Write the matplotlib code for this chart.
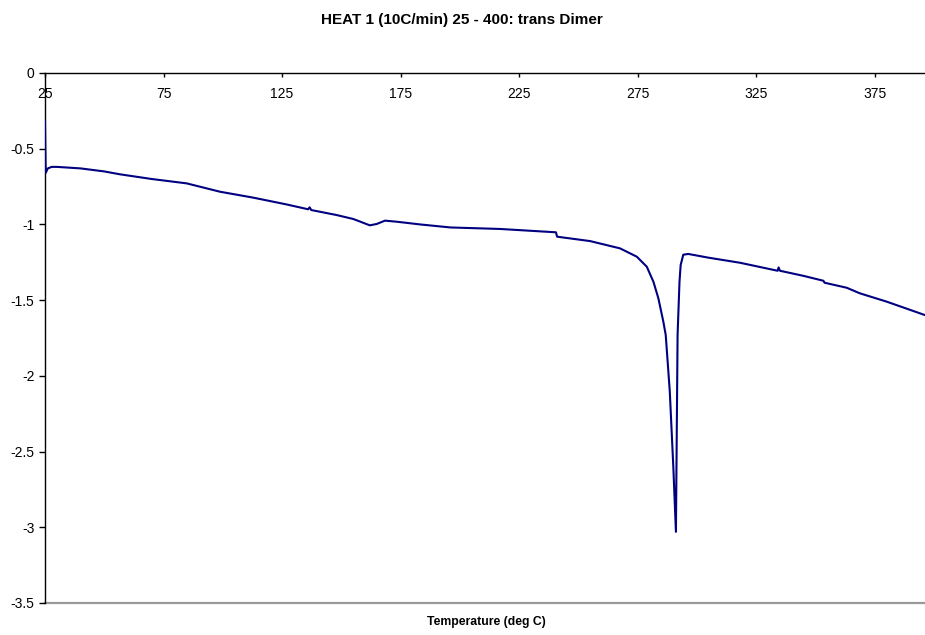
"""
DSC heat-flow trace, Excel-style line chart.
"""
import matplotlib
matplotlib.use('Agg')
import matplotlib.pyplot as plt

# ============================================================
# DATA
# ============================================================
temperature = [
    25.0, 25.3, 26.2, 27.8, 30, 40, 50, 56.6, 70, 84.8, 98.8, 112.8,
    126.9, 136.0, 136.6, 137.3, 148, 155, 162, 164.9, 168.4, 173.3,
    183.2, 196, 217, 240.5, 241.0, 254.9, 267.5, 274.6, 278.8, 281.6,
    283.7, 285.8, 286.8, 288.5, 290.0, 291.1, 291.8, 292.6, 293.1, 294.2,
    296.3, 305, 318.1, 334.0, 334.4, 335.0, 345, 353.3, 353.8, 363.1,
    368.7, 380, 396,
]
heat_flow = [
    -0.32, -0.66, -0.63, -0.62, -0.62, -0.63, -0.65, -0.669, -0.70, -0.729,
    -0.784, -0.823, -0.868, -0.90, -0.887, -0.905, -0.938, -0.964, -1.006,
    -0.997, -0.975, -0.982, -1.0, -1.02, -1.03, -1.052, -1.081, -1.11,
    -1.158, -1.213, -1.279, -1.378, -1.488, -1.643, -1.73, -2.1, -2.6,
    -3.03, -1.73, -1.38, -1.268, -1.20, -1.195, -1.22, -1.253, -1.306,
    -1.284, -1.306, -1.34, -1.372, -1.385, -1.418, -1.455, -1.51, -1.598,
]

x_ticks = [25, 75, 125, 175, 225, 275, 325, 375]
y_ticks = [0, -0.5, -1, -1.5, -2, -2.5, -3, -3.5]
y_labels = ['0', '-0.5', '-1', '-1.5', '-2', '-2.5', '-3', '-3.5']

FONT = ['Liberation Sans', 'DejaVu Sans']
LINE = '#000080'

# ============================================================
# FIGURE
# ============================================================
fig = plt.figure(figsize=(9.25, 6.35), dpi=100, facecolor='white')
ax = fig.add_axes([45 / 925, 32 / 635, 880 / 925, 530 / 635])
ax.set_facecolor('white')

ax.plot(temperature, heat_flow, color=LINE, linewidth=1.5, zorder=3)

ax.set_xlim(25, 25 + 880 / 2.371)
ax.set_ylim(-3.5, 0)

# x axis sits at y = 0 (top of plot), labels hang below it
ax.spines['bottom'].set_position(('data', 0))
ax.spines['top'].set_visible(False)
ax.spines['right'].set_visible(False)
for s in ('bottom', 'left'):
    ax.spines[s].set_color('black')
    ax.spines[s].set_linewidth(1.0)
ax.axhline(-3.5, color='#999999', linewidth=1.6, clip_on=False, zorder=1)

ax.set_xticks(x_ticks)
ax.set_xticklabels([str(t) for t in x_ticks], family=FONT, fontsize=10)
ax.set_yticks(y_ticks)
ax.set_yticklabels(y_labels, family=FONT, fontsize=10)
ax.tick_params(axis='x', direction='out', length=3, width=1, pad=7)
ax.tick_params(axis='y', direction='out', length=4.5, width=1, pad=3)

fig.text(0.4995, 1 - 20 / 635, 'HEAT 1 (10C/min) 25 - 400: trans Dimer',
         family=FONT, fontsize=11, fontweight='bold', ha='center', va='center')
fig.text(486 / 925, 1 - 622 / 635, 'Temperature (deg C)',
         family=FONT, fontsize=8.8, fontweight='bold', ha='center', va='center')

fig.savefig('out.png', dpi=100, facecolor='white')
plt.close(fig)
